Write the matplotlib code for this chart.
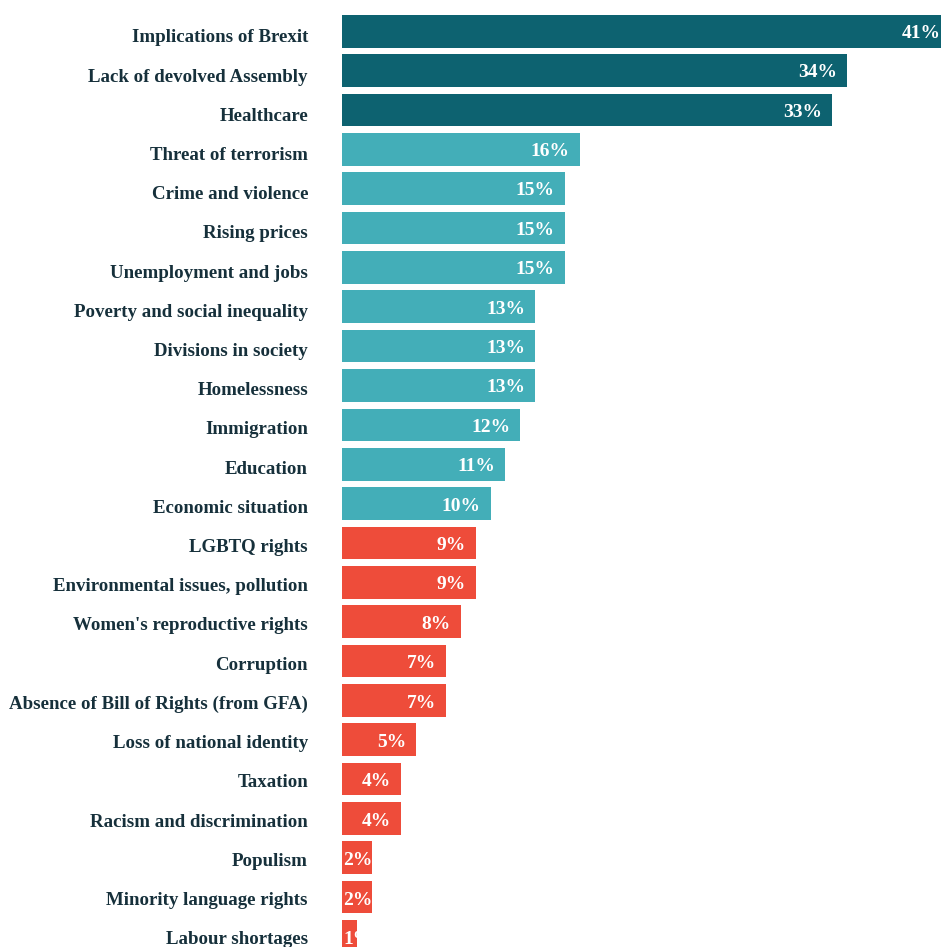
import matplotlib
matplotlib.use("Agg")
import matplotlib.pyplot as plt
from matplotlib.transforms import offset_copy

categories = [
    "Implications of Brexit",
    "Lack of devolved Assembly",
    "Healthcare",
    "Threat of terrorism",
    "Crime and violence",
    "Rising prices",
    "Unemployment and jobs",
    "Poverty and social inequality",
    "Divisions in society",
    "Homelessness",
    "Immigration",
    "Education",
    "Economic situation",
    "LGBTQ rights",
    "Environmental issues, pollution",
    "Women's reproductive rights",
    "Corruption",
    "Absence of Bill of Rights (from GFA)",
    "Loss of national identity",
    "Taxation",
    "Racism and discrimination",
    "Populism",
    "Minority language rights",
    "Labour shortages",
]
values = [41, 34, 33, 16, 15, 15, 15, 13, 13, 13, 12, 11, 10,
          9, 9, 8, 7, 7, 5, 4, 4, 2, 2, 1]
tiers = [0, 0, 0, 1, 1, 1, 1, 1, 1, 1, 1, 1, 1,
         2, 2, 2, 2, 2, 2, 2, 2, 2, 2, 2]
tier_colors = ["#0d6270", "#43aeb8", "#ee4c3a"]

TEXT = "#16303b"
FONT = "Liberation Serif"

fig = plt.figure(figsize=(9.41, 9.47), dpi=100)
ax = fig.add_axes([342 / 941, 0, 1 - 342 / 941, 1])

ys = list(range(len(categories)))
ax.barh(ys, values, height=0.83, color=[tier_colors[t] for t in tiers],
        edgecolor="none")

ax.set_xlim(0, 599 / 14.85)
ax.set_ylim(23.27, -0.797)
ax.axis("off")

# Category labels to the left of the bars
for y, c in zip(ys, categories):
    tr = offset_copy(ax.get_yaxis_transform(), fig=fig, x=-34,
                     y=-(11 - 0.14 * y), units="dots")
    ax.text(0, y, c, transform=tr, ha="right", va="baseline",
            fontsize=13.6, fontweight="bold", color=TEXT, family=FONT,
            clip_on=False)

# Value labels inside the bar ends
for y, v in zip(ys, values):
    dy = -(6.4 + 0.05 * y)
    if v >= 3:
        tr = offset_copy(ax.transData, fig=fig, x=-10, y=dy, units="dots")
        ax.text(v, y, f"{v}%", transform=tr, ha="right", va="baseline",
                fontsize=14, fontweight="bold", color="white", family=FONT,
                clip_on=True)
    else:
        tr = offset_copy(ax.transData, fig=fig, x=1.5, y=dy, units="dots")
        ax.text(0, y, f"{v}%", transform=tr, ha="left", va="baseline",
                fontsize=14, fontweight="bold", color="white", family=FONT,
                clip_on=True)

fig.savefig("out.png", dpi=100)
